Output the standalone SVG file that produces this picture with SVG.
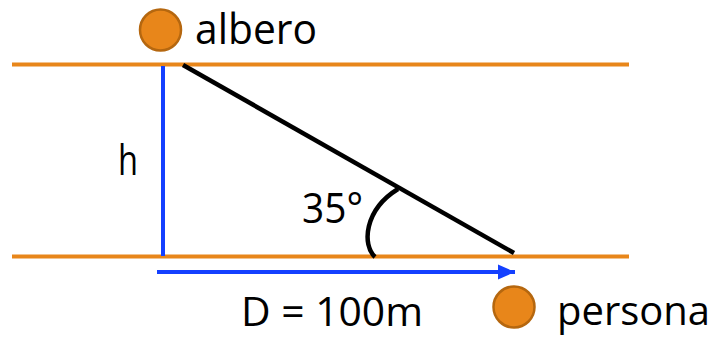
<svg xmlns="http://www.w3.org/2000/svg" width="713" height="338" viewBox="0 0 713 338">
<defs>
<style>
.lbl{font-family:"Open Sans","Noto Sans","Liberation Sans",sans-serif;fill:#000;font-size:42px}
.low{font-size:40px}
.road{stroke:#E8861A;stroke-width:4;fill:none}
.dot{fill:#E8861A;stroke:#B5670F;stroke-width:2.5}
.blue{stroke:#1440FF;stroke-width:4;fill:none}
.blk{stroke:#000;stroke-width:4.5;fill:none}
</style>
<marker id="ah" markerUnits="userSpaceOnUse" markerWidth="18" markerHeight="16" refX="17" refY="8" orient="auto">
<path d="M0,0.5 L17,8 L0,15.5 Z" fill="#1440FF"/>
</marker>
</defs>
<g id="connectors">
<line class="road" x1="12" y1="64.5" x2="629" y2="64.5"/>
<line class="road" x1="12" y1="256.5" x2="629" y2="256.5"/>
<line class="blue" x1="163" y1="66" x2="163" y2="256"/>
<line class="blue" x1="157" y1="272" x2="515" y2="272" marker-end="url(#ah)"/>
<line class="blk" x1="183" y1="65" x2="514" y2="253"/>
<path class="blk" d="M375,257 C362,245 364,210 398,189"/>
</g>
<g id="albero">
<circle class="dot" cx="160.5" cy="30" r="20.5"/>
<text class="lbl" x="195" y="44" textLength="122" lengthAdjust="spacingAndGlyphs">albero</text>
</g>
<g id="persona">
<circle class="dot" cx="514" cy="307" r="20.5"/>
<text class="lbl low" x="557" y="325" textLength="153" lengthAdjust="spacingAndGlyphs">persona</text>
</g>
<g id="h-label">
<text class="lbl" x="118" y="175" textLength="20" lengthAdjust="spacingAndGlyphs">h</text>
</g>
<g id="angle-label">
<text class="lbl" x="302" y="223" textLength="61" lengthAdjust="spacingAndGlyphs">35°</text>
</g>
<g id="d-label">
<text class="lbl low" x="241" y="326" textLength="182" lengthAdjust="spacingAndGlyphs">D = 100m</text>
</g>
</svg>
